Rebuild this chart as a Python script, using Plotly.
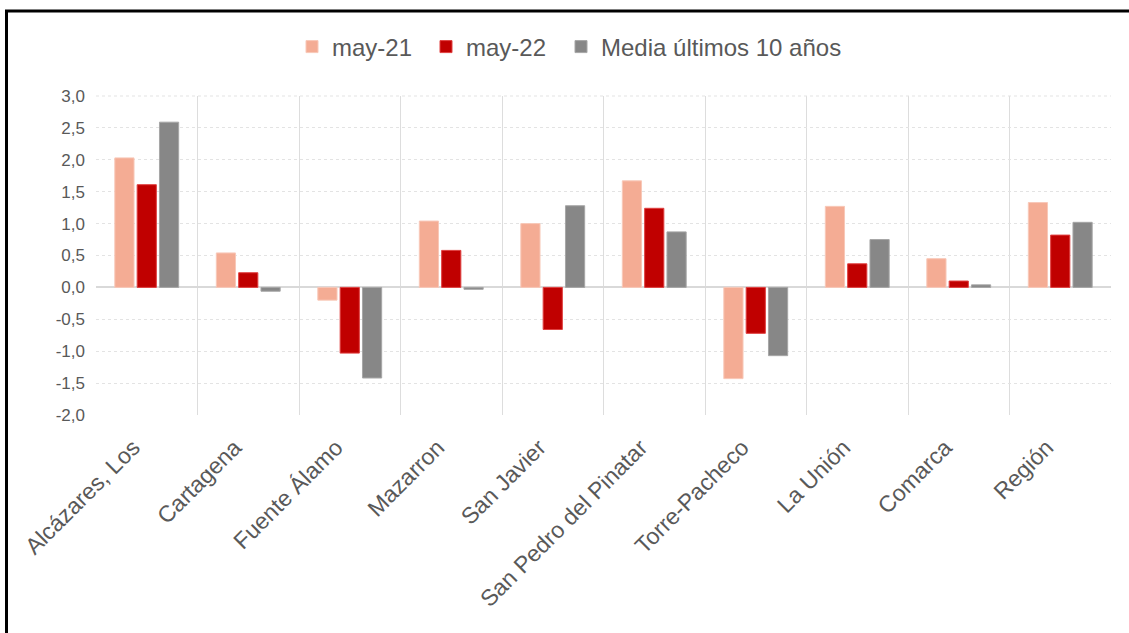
import plotly.graph_objects as go

categories = ["Alcázares, Los", "Cartagena", "Fuente Álamo", "Mazarron", "San Javier",
              "San Pedro del Pinatar", "Torre-Pacheco", "La Unión", "Comarca", "Región"]
may21 = [2.03, 0.54, -0.20, 1.04, 1.00, 1.67, -1.43, 1.27, 0.45, 1.33]
may22 = [1.61, 0.23, -1.03, 0.58, -0.66, 1.24, -0.72, 0.37, 0.10, 0.82]
media10 = [2.59, -0.06, -1.42, -0.03, 1.28, 0.87, -1.07, 0.75, 0.04, 1.02]

series_names = ["may-21", "may-22", "Media últimos 10 años"]
y_tickvals = [-2.0, -1.5, -1.0, -0.5, 0.0, 0.5, 1.0, 1.5, 2.0, 2.5, 3.0]
y_ticktext = ["-2,0", "-1,5", "-1,0", "-0,5", "0,0", "0,5", "1,0", "1,5", "2,0", "2,5", "3,0"]

colors = ["#F4AC94", "#C00000", "#878787"]
edge_colors = ["#F8C8B8", "#E04040", "#A6A6A6"]

FONT = "Arial, Liberation Sans, sans-serif"
TXT = "#595959"

W, H = 1129, 633
ml, mr, mt, mb = 96, 18, 96, 218
pw, ph = W - ml - mr, H - mt - mb

def px2x(px):
    return (px - ml) / pw

def px2y(py):
    return (H - mb - py) / ph

legend_ids = ["legend", "legend2", "legend3"]
legend_px = [308, 442, 577]

fig = go.Figure()
for name, vals, c, ec, lid in zip(series_names, [may21, may22, media10], colors, edge_colors, legend_ids):
    fig.add_trace(go.Bar(x=categories, y=vals, name=name, legend=lid,
                         marker=dict(color=c, line=dict(color=ec, width=1))))

legend_layout = {}
for lid, lx in zip(legend_ids, legend_px):
    legend_layout[lid] = dict(orientation="h", x=px2x(lx - 16), xanchor="left",
                              y=px2y(47), yanchor="middle", bgcolor="rgba(0,0,0,0)",
                              font=dict(size=24, color=TXT), itemwidth=30)

# trailing no-break spaces nudge the rotated labels along their baseline
x_ticktext = [c + "\u00a0\u00a0\u00a0" for c in categories]

fig.update_layout(
    width=W, height=H,
    margin=dict(l=ml, r=mr, t=mt, b=mb),
    paper_bgcolor="white", plot_bgcolor="white",
    font=dict(family=FONT, color=TXT),
    barmode="group", bargap=0.34, bargroupgap=0.14,
    showlegend=True,
    **legend_layout,
)
fig.update_xaxes(
    tickangle=-45, tickfont=dict(size=23, color=TXT),
    tickmode="array", tickvals=categories, ticktext=x_ticktext,
    tickson="boundaries", showgrid=True, gridcolor="#DDDDDD", gridwidth=1,
    showline=False, ticks="", zeroline=False,
)
fig.update_yaxes(
    range=[-2, 3], tickvals=y_tickvals, ticktext=y_ticktext,
    tickfont=dict(size=17, color=TXT), ticklabelstandoff=10,
    showgrid=True, gridcolor="#E3E3E3", griddash="dot", gridwidth=1,
    zeroline=True, zerolinecolor="#D9D9D9", zerolinewidth=2,
    showline=False, ticks="",
)
fig.add_shape(type="line", xref="paper", yref="paper",
              x0=0, x1=1, y0=1, y1=1, line=dict(color="#E3E3E3", width=1, dash="dot"))
# outer frame
fig.add_shape(type="rect", xref="paper", yref="paper",
              x0=px2x(6.5), x1=px2x(1140), y0=px2y(11), y1=px2y(650),
              line=dict(color="black", width=3), layer="above")

fig.write_html("out.html", config={"displayModeBar": False},
               post_script="document.body.style.margin='0';document.body.style.overflow='hidden';")
